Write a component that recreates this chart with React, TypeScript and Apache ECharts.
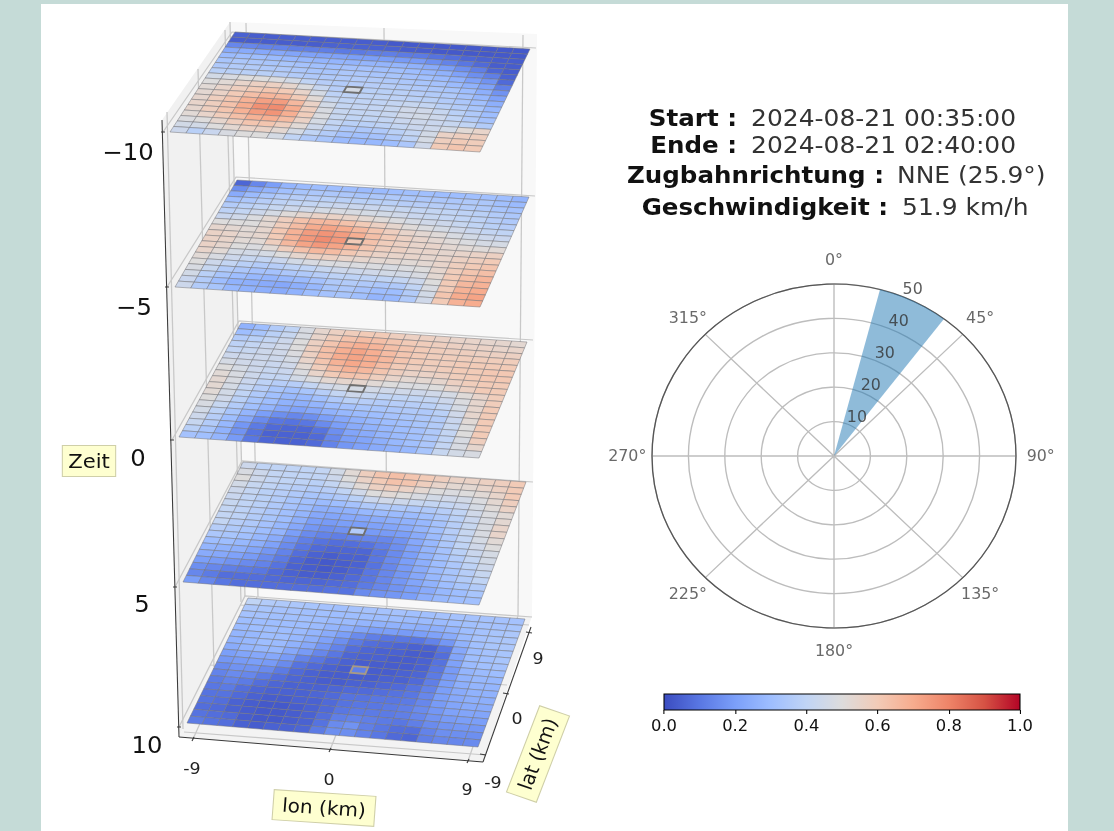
import React, { useEffect, useRef } from "react";
import * as echarts from "echarts";

const S = 1.058; // the reference is stretched horizontally
const W = 1114;
const H = 831;

// field values in hundredths of the colour scale; rows run back (lat 9) to front (lat -9), columns lon -9 to 9
const layer1 = [
[5,4,4,4,4,4,4,4,4,4,3,3,3,3,3,3,3,3,3],
[4,4,4,4,4,4,5,5,5,5,5,4,4,3,3,3,3,3,3],
[14,14,13,13,12,12,12,11,11,12,12,11,11,9,8,6,5,4,4],
[24,24,23,23,22,21,21,21,20,20,20,19,19,16,13,10,7,4,4],
[29,30,30,29,28,28,27,27,27,27,27,27,26,24,20,16,12,6,4],
[33,34,34,33,33,32,31,31,32,32,31,31,30,28,26,21,16,12,5],
[35,36,36,35,35,34,33,33,34,34,33,33,32,31,29,26,21,17,7],
[38,38,38,38,37,36,35,35,35,36,36,35,34,33,32,29,26,21,12],
[46,48,50,50,49,46,40,37,36,37,37,37,36,35,34,33,30,25,17],
[50,52,55,57,57,54,49,42,37,47,38,38,38,37,36,35,32,28,21],
[52,55,58,60,62,60,55,47,39,39,39,39,39,38,38,36,34,31,25],
[53,56,60,64,67,66,60,52,42,40,40,40,41,42,41,38,36,33,28],
[54,58,62,68,73,74,66,56,46,41,41,41,42,45,45,42,38,35,30],
[55,58,63,70,77,78,70,58,48,42,41,41,42,45,46,44,40,36,32],
[54,58,62,68,74,76,69,59,49,42,40,40,41,43,44,43,42,40,36],
[52,55,59,64,68,69,65,56,47,41,38,38,39,41,43,44,46,52,55],
[49,50,54,58,62,62,58,52,44,39,35,34,35,38,41,46,56,58,58],
[46,46,50,53,56,56,53,47,40,36,32,31,32,35,39,47,58,60,59],
[44,38,43,48,50,50,47,40,35,33,29,28,28,30,34,45,60,62,60],
];
const layer2 = [
[6,14,20,27,29,30,30,30,29,29,30,31,31,30,30,31,31,30,27],
[16,23,27,31,33,34,34,34,33,34,35,34,34,34,34,35,34,31,29],
[24,29,33,36,37,37,38,38,38,38,38,37,37,37,36,36,35,33,32],
[31,34,37,39,40,41,42,43,43,43,42,42,41,41,40,39,38,36,34],
[36,38,40,42,44,45,47,48,48,47,46,45,43,42,41,40,39,37,35],
[39,41,44,47,51,54,56,56,55,53,51,49,47,45,44,42,40,38,37],
[43,45,49,53,58,63,66,66,63,60,57,54,51,49,47,45,43,41,40],
[50,50,50,53,59,65,70,72,70,66,62,58,55,53,51,48,46,44,43],
[54,53,52,54,61,68,74,76,74,69,64,60,57,55,53,51,49,47,47],
[56,55,53,54,60,68,75,78,75,60,63,59,57,55,55,53,52,51,52],
[56,55,52,52,58,66,72,75,72,67,62,58,57,55,55,54,55,56,57],
[56,54,50,49,52,58,63,66,65,61,58,56,55,55,54,55,57,58,60],
[55,52,47,46,47,50,54,57,57,55,54,53,53,52,53,55,58,60,62],
[52,48,44,42,41,43,46,48,49,49,49,49,48,49,50,54,59,62,64],
[50,44,41,38,36,37,39,40,42,44,44,45,46,46,48,53,60,64,67],
[48,42,36,34,32,32,34,35,37,39,39,39,40,41,44,50,60,66,68],
[46,38,33,30,28,27,28,29,32,35,36,35,34,35,40,48,60,68,70],
[43,36,30,26,25,24,23,25,28,33,34,32,30,30,36,46,62,70,72],
[44,36,33,28,26,25,24,26,30,32,33,31,27,28,35,45,60,68,70],
];
const layer3 = [
[26,30,36,40,48,54,57,59,60,60,58,57,57,56,55,55,54,54,53],
[30,33,38,42,48,55,59,63,65,64,62,60,59,58,57,56,56,55,55],
[36,38,41,44,50,57,62,67,69,67,64,62,60,59,58,58,57,57,57],
[39,41,43,45,50,58,64,69,72,69,65,62,60,59,59,59,59,59,59],
[41,42,44,45,49,57,64,70,72,70,66,62,60,59,59,60,60,60,60],
[44,44,44,44,47,55,62,68,71,69,65,60,58,58,59,60,60,61,61],
[47,45,44,43,45,52,59,65,68,66,62,58,56,56,57,59,60,61,61],
[50,47,44,42,43,49,55,60,63,62,58,55,53,53,54,57,59,60,60],
[52,48,44,41,41,46,49,53,54,54,52,50,49,49,50,54,57,60,60],
[53,48,43,39,37,37,41,45,47,47,46,45,45,44,45,47,51,55,59],
[53,47,41,37,33,31,33,37,41,44,42,40,40,40,41,44,49,54,59],
[52,46,40,35,31,28,28,31,35,38,37,36,37,37,38,41,47,54,60],
[50,45,38,33,30,26,25,27,30,32,33,33,34,35,35,38,45,54,60],
[48,42,36,31,27,23,21,23,26,28,29,30,32,33,34,36,43,52,60],
[46,39,33,27,20,16,14,16,20,23,26,28,30,31,33,36,42,50,60],
[44,37,30,23,15,10,9,10,15,20,24,26,28,30,32,35,41,50,60],
[42,36,28,18,11,7,6,6,9,16,22,24,27,29,31,34,40,48,58],
[38,33,26,17,9,5,5,5,7,14,20,22,25,28,31,34,41,48,54],
[32,31,27,19,10,6,5,5,7,13,18,21,24,26,28,33,42,46,48],
];
const layer4 = [
[44,40,40,40,40,41,46,52,58,62,64,62,60,58,56,56,57,58,60],
[48,44,41,40,40,40,44,50,56,60,63,62,58,55,53,53,55,57,60],
[50,44,41,40,39,38,41,46,52,57,58,56,53,50,49,50,52,55,60],
[46,42,40,38,37,36,37,40,45,50,52,50,48,46,45,46,49,53,58],
[44,41,38,37,35,33,33,35,38,43,45,44,42,41,41,43,47,51,56],
[43,40,38,36,33,31,29,30,32,35,36,35,34,35,37,40,45,49,52],
[42,40,38,35,32,29,25,25,26,28,29,29,29,31,34,38,43,48,53],
[41,39,37,34,31,27,23,22,23,23,24,25,26,28,32,37,42,48,55],
[41,39,36,33,30,25,20,19,20,20,21,22,24,27,31,37,42,48,55],
[41,37,35,32,28,23,18,16,17,36,19,19,20,24,29,35,41,47,52],
[37,35,33,30,27,20,15,13,12,13,14,14,17,23,28,34,40,45,50],
[34,33,31,28,24,17,12,9,8,8,9,12,16,21,27,32,38,43,47],
[30,30,28,25,21,15,10,7,6,6,6,10,15,20,26,31,36,41,46],
[27,26,25,22,18,13,8,5,4,5,5,10,15,20,25,30,34,39,44],
[24,23,21,19,15,11,6,4,3,4,5,9,14,19,24,29,33,37,42],
[20,19,17,15,13,9,5,4,3,4,6,10,14,18,23,28,32,36,40],
[16,14,12,11,10,7,5,4,4,5,7,10,14,18,22,26,30,33,36],
[14,11,8,8,8,7,6,6,6,7,8,11,14,17,20,24,28,30,33],
[20,14,10,8,8,8,8,8,8,9,9,15,17,18,20,25,28,30,31],
];
const layer5 = [
[40,36,35,34,33,32,31,32,32,32,32,31,31,32,32,32,32,32,32],
[34,33,32,32,31,31,30,30,30,30,30,29,29,29,30,31,32,32,33],
[32,32,31,31,31,30,29,29,27,26,26,26,25,25,27,30,32,33,34],
[30,30,30,30,30,29,27,25,22,20,20,19,20,21,24,29,32,33,34],
[29,30,30,30,29,27,24,20,15,12,10,10,10,13,18,26,31,33,34],
[27,28,30,30,28,25,21,16,11,8,7,6,5,5,10,23,30,32,33],
[26,28,30,29,26,23,18,13,8,6,5,5,4,4,8,22,30,31,33],
[24,27,28,28,23,19,14,10,6,5,5,4,4,5,9,21,29,31,32],
[20,22,23,23,19,13,10,7,5,4,4,4,4,5,10,19,27,29,30],
[18,19,20,19,15,9,7,5,4,12,4,4,5,6,11,19,26,28,28],
[15,17,17,15,11,7,5,4,4,4,4,5,5,7,12,20,25,27,27],
[13,15,14,11,8,6,5,4,4,5,5,6,7,9,13,20,24,26,26],
[11,13,11,8,6,5,5,5,6,7,7,8,9,10,14,20,23,25,25],
[10,11,8,6,5,5,5,6,7,9,9,10,10,11,14,19,22,24,24],
[9,9,7,5,4,4,5,5,7,9,10,10,11,12,15,18,21,22,22],
[9,8,5,4,3,3,4,5,7,10,11,11,11,12,14,17,19,20,20],
[8,7,5,4,3,3,4,5,8,12,13,12,11,10,12,15,17,18,18],
[9,8,7,4,3,3,4,5,9,15,17,12,10,8,8,13,16,16,16],
[11,9,8,5,4,5,5,6,11,16,16,13,10,7,6,12,14,14,15],
];
const layers = [layer1, layer2, layer3, layer4, layer5];

const zTicks = ["−10", "−5", "0", "5", "10"];
const lonTicks = ["-9", "0", "9"];
const latTicks = ["-9", "0", "9"];
const radiusTicks = [10, 20, 30, 40, 50];
const angleTicks = [0, 45, 90, 135, 180, 225, 270, 315];
const angleLabelRadius = 56.8;
const rLabelAngle = 22.5;
const trackAngle = 25.9;
const trackSpeed = 51.9;
const sectorWidth = 22.5;
const infoRows = [
  ["Start :", "2024-08-21 00:35:00"],
  ["Ende :", "2024-08-21 02:40:00"],
  ["Zugbahnrichtung :", "NNE (25.9°)"],
  ["Geschwindigkeit :", "51.9 km/h"],
];
const coolwarm = ["#3b4cc0","#5977e3","#7b9ff9","#9ebeff","#c0d4f5","#dddcdc","#f2cbb7","#f7ac8e","#ee8468","#d65244","#b40426"];

type P = [number, number];
// page-pixel layout of the 3D box (BL, BR, FR, FL per layer)
const quads: P[][] = [
  [[235,32],[530,49],[480,152],[170,132]],
  [[237,180],[529,197],[480,307],[175,287]],
  [[241,323],[527,342],[479,458],[179,437]],
  [[243,462],[526,482],[479,605],[183,582]],
  [[248,598],[525,619],[478,747],[187,723]],
];
const zGrid: P[][] = [
  [[163,132],[232,32],[536,48]],
  [[167,287],[236,177],[535,196]],
  [[172,440],[239,321],[533,340]],
  [[175,587],[242,461],[533,482]],
  [[179,727],[245,596],[532,617]],
];
const wallLines: P[][] = [
  [[167,112],[183,729]],
  [[198,69],[214,667]],
  [[225,30],[241,602]],
  [[230,22],[245,596]],
  [[246,23],[258,597]],
  [[384,28],[387,606]],
  [[523,35],[518,616]],
  [[193,739],[257,597]],
  [[330,750],[387,606]],
  [[468,761],[518,616]],
  [[184,732],[486,755]],
  [[210,665],[507,685]],
  [[240,605],[529,625]],
];
const leftWall: P[] = [[162,120],[230,22],[245,596],[179,737]];
const backWall: P[] = [[230,22],[537,34],[532,616],[245,596]];
const floor: P[] = [[179,737],[245,596],[532,616],[483,762]];

const px = (p: P): number[] => [p[0] / S, p[1]];

function hexRgb(h: string) {
  return [parseInt(h.slice(1, 3), 16), parseInt(h.slice(3, 5), 16), parseInt(h.slice(5, 7), 16)];
}
function colorAt(v: number) {
  const t = Math.min(0.9999, Math.max(0, v)) * 10;
  const i = Math.floor(t);
  const a = hexRgb(coolwarm[i]);
  const b = hexRgb(coolwarm[i + 1]);
  const f = t - i;
  return `rgb(${a.map((c, k) => Math.round(c + (b[k] - c) * f)).join(",")})`;
}
function quadMap(q: P[]) {
  const [[x0, y0], [x1, y1], [x2, y2], [x3, y3]] = q;
  const dx1 = x1 - x2, dx2 = x3 - x2, sx = x0 - x1 + x2 - x3;
  const dy1 = y1 - y2, dy2 = y3 - y2, sy = y0 - y1 + y2 - y3;
  const den = dx1 * dy2 - dx2 * dy1;
  const g = (sx * dy2 - dx2 * sy) / den;
  const h = (dx1 * sy - sx * dy1) / den;
  const a = x1 - x0 + g * x1, b = x3 - x0 + h * x3;
  const d = y1 - y0 + g * y1, e = y3 - y0 + h * y3;
  return (u: number, v: number): number[] => {
    const w = g * u + h * v + 1;
    return [(a * u + b * v + x0) / w / S, (d * u + e * v + y0) / w];
  };
}
const maps = quads.map(quadMap);

function App() {
  const ref = useRef<HTMLDivElement>(null);
  useEffect(() => {
    const chart = echarts.init(ref.current!, undefined, { renderer: "svg" });
    const cellData: number[][] = [];
    layers.forEach((rows, l) =>
      rows.forEach((row, r) => row.forEach((v, c) => cellData.push([l, c, r, v / 100])))
    );
    const n = 19;
    const wallStyle = (fill: string) => ({ fill });
    const gridLine = { stroke: "#c8c8c8", fill: "none", lineWidth: 1.2 };
    const darkLine = { stroke: "#3a3a3a", fill: "none", lineWidth: 1 };
    const graphics: any[] = [
      { type: "polygon", z: 0, shape: { points: leftWall.map(px) }, style: wallStyle("#f1f1f1") },
      { type: "polygon", z: 0, shape: { points: backWall.map(px) }, style: wallStyle("#f8f8f8") },
      { type: "polygon", z: 0, shape: { points: floor.map(px) }, style: wallStyle("#f3f3f3") },
    ];
    wallLines.forEach((l) => graphics.push({ type: "polyline", z: 1, shape: { points: l.map(px) }, style: gridLine }));
    zGrid.forEach((l) => graphics.push({ type: "polyline", z: 1, shape: { points: l.map(px) }, style: gridLine }));
    const axes: P[][] = [
      [[162,120],[179,737]],
      [[179,737],[483,762]],
      [[483,762],[531,627]],
    ];
    axes.forEach((l) => graphics.push({ type: "polyline", z: 3, shape: { points: l.map(px) }, style: darkLine }));
    const ticks: P[][] = [
      [[161,132],[165,132]], [[165,287],[169,287]], [[170,440],[174,440]], [[173,587],[177,587]], [[177,727],[181,727]],
      [[192,741],[194,737]], [[329,752],[331,748]], [[467,763],[469,759]],
      [[486,755],[480,754]], [[509,694],[503,693]], [[532,633],[526,632]],
    ];
    ticks.forEach((l) => graphics.push({ type: "polyline", z: 3, shape: { points: l.map(px) }, style: darkLine }));
    const txt = (t: string, x: number, y: number, size: number, color: string, extra: any = {}, align = "center") => ({
      type: "text", z: 6, x: x / S, y,
      style: { text: t, fontFamily: "DejaVu Sans", fontSize: size, fill: color, align, verticalAlign: "middle", ...extra },
    });
    const zPos: P[] = [[128,152],[134,307],[138,458],[142,604],[147,745]];
    zTicks.forEach((t, i) => graphics.push(txt(t, zPos[i][0], zPos[i][1], 23, "#111")));
    const lonPos: P[] = [[192,768],[329,779],[467,789]];
    lonTicks.forEach((t, i) => graphics.push(txt(t, lonPos[i][0], lonPos[i][1], 16.5, "#222")));
    const latPos: P[] = [[493,782],[517,718],[538,658]];
    latTicks.forEach((t, i) => graphics.push(txt(t, latPos[i][0], latPos[i][1], 16.5, "#222")));
    const box = { backgroundColor: "#feffd0", borderColor: "#cfcfa8", borderWidth: 1, padding: [5, 5, 5, 5] };
    graphics.push(txt("Zeit", 89, 461, 20, "#111", box));
    graphics.push({ ...txt("lon (km)", 324, 808, 19, "#111", { ...box, padding: [5, 8, 5, 8] }), rotation: (-4 * Math.PI) / 180 });
    graphics.push({ ...txt("lat (km)", 538, 754, 19, "#111", { ...box, padding: [5, 8, 5, 8] }), rotation: (70 * Math.PI) / 180 });
    const infoPos = [[737, 751, 118], [737, 751, 145], [884, 897, 175], [888, 902, 207]];
    infoRows.forEach((r, i) => {
      graphics.push(txt(r[0], infoPos[i][0], infoPos[i][2], 23.2, "#111", { fontWeight: "bold" }, "right"));
      graphics.push(txt(r[1], infoPos[i][1], infoPos[i][2], 23.6, "#333", {}, "left"));
    });

    chart.setOption({
      animation: false,
      graphic: { elements: graphics },
      polar: { center: [834 / S, 456], radius: 172 },
      angleAxis: {
        type: "value", min: 0, max: 360, interval: 45, startAngle: 90,
        axisLine: { show: true, lineStyle: { color: "#555", width: 1.2 } },
        axisTick: { show: false },
        splitLine: { show: true, lineStyle: { color: "#bdbdbd", width: 1.3 } },
        axisLabel: { show: false },
      },
      radiusAxis: {
        type: "value", min: 0, max: 50, interval: 10,
        axisLine: { show: false }, axisTick: { show: false }, axisLabel: { show: false },
        splitLine: { show: true, lineStyle: { color: "#bdbdbd", width: 1.3 } },
      },
      grid: { left: 664 / S, width: 356 / S, top: 694, height: 16, show: false },
      xAxis: {
        type: "value", min: 0, max: 1, interval: 0.2,
        axisLine: { show: false }, splitLine: { show: false },
        axisTick: { show: true, length: 4, lineStyle: { color: "#000" } },
        axisLabel: { fontFamily: "DejaVu Sans", fontSize: 15.5, color: "#111", margin: 8, formatter: (v: number) => v.toFixed(1) },
      },
      yAxis: { type: "value", min: 0, max: 1, show: false },
      series: [
        {
          type: "custom", coordinateSystem: "none", z: 2, silent: true,
          data: cellData,
          renderItem: (_: any, api: any) => {
            const l = api.value(0), c = api.value(1), r = api.value(2), v = api.value(3);
            const m = maps[l];
            const points = [m(c / n, r / n), m((c + 1) / n, r / n), m((c + 1) / n, (r + 1) / n), m(c / n, (r + 1) / n)];
            const mid = c === 9 && r === 9;
            return {
              type: "polygon", z2: mid ? 10 : 1, shape: { points },
              style: {
                fill: colorAt(v),
                stroke: mid ? (l === 4 ? "#a79a86" : "#6f6f6f") : "rgba(115,115,120,0.7)",
                lineWidth: mid ? 1.8 : 0.7,
              },
            };
          },
        },
        {
          type: "bar", coordinateSystem: "polar", barWidth: sectorWidth, z: 2, silent: true,
          data: [[trackSpeed, trackAngle]],
          itemStyle: { color: "rgba(31,119,180,0.5)" },
        },
        {
          type: "scatter", coordinateSystem: "polar", z: 4, silent: true, symbolSize: 1,
          itemStyle: { color: "transparent" },
          data: radiusTicks.map((r) => [r, rLabelAngle]),
          label: {
            show: true, position: "inside", offset: [8.5, -7.5], fontFamily: "DejaVu Sans", fontSize: 15, color: "#333",
            formatter: (p: any) => String(p.value[0]),
          },
        },
        {
          type: "scatter", coordinateSystem: "polar", z: 4, silent: true, symbolSize: 1, clip: false,
          itemStyle: { color: "transparent" },
          data: angleTicks.map((a) => [angleLabelRadius, a]),
          label: {
            show: true, position: "inside", fontFamily: "DejaVu Sans", fontSize: 15, color: "#444",
            formatter: (p: any) => `${p.value[1]}°`,
          },
        },
        {
          type: "custom", coordinateSystem: "cartesian2d", z: 2, silent: true,
          data: [[0, 1]],
          renderItem: (_: any, api: any) => {
            const a = api.coord([0, 1]);
            const b = api.coord([1, 0]);
            return {
              type: "rect",
              shape: { x: a[0], y: a[1], width: b[0] - a[0], height: b[1] - a[1] },
              style: {
                fill: new echarts.graphic.LinearGradient(0, 0, 1, 0, coolwarm.map((color, i) => ({ offset: i / 10, color }))),
                stroke: "#000", lineWidth: 1,
              },
            };
          },
        },
      ],
    });
    return () => chart.dispose();
  }, []);
  return (
    <div style={{ position: "fixed", left: 0, top: 0, width: W, height: H, overflow: "hidden", background: "#c5dbd7" }}>
      <div style={{ position: "absolute", left: 41, top: 4, width: 1027, height: H - 4, background: "#fff" }} />
      <div
        ref={ref}
        style={{
          position: "absolute", left: 0, top: 0, width: W / S, height: H,
          transform: `scaleX(${S})`, transformOrigin: "0 0", filter: "blur(0.5px)",
        }}
      />
    </div>
  );
}

export default App;
